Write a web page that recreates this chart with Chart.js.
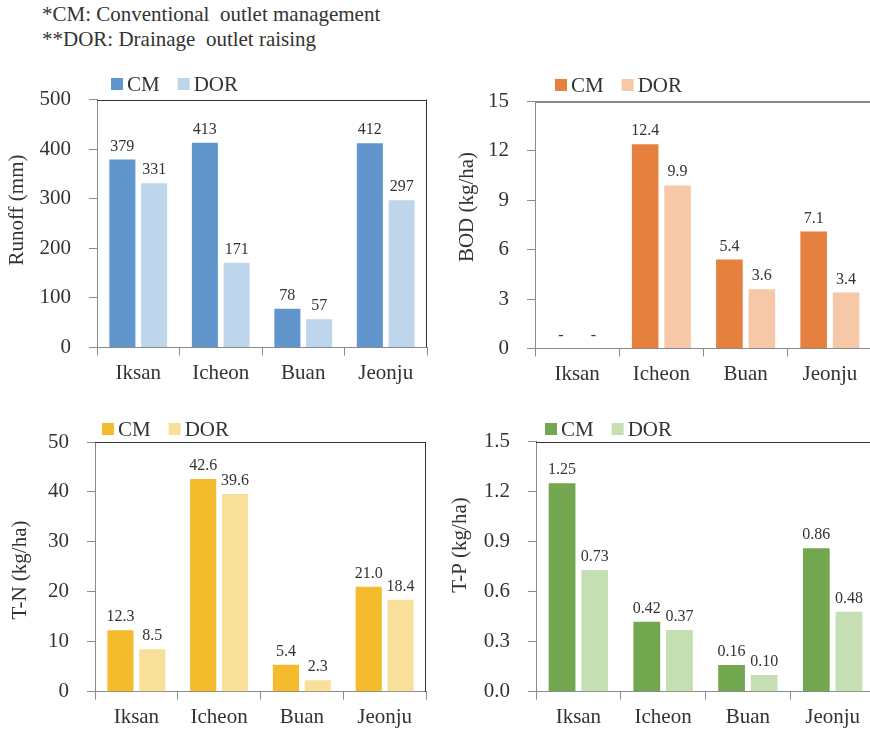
<!DOCTYPE html>
<html>
<head>
<meta charset="utf-8">
<script src="https://cdn.jsdelivr.net/npm/chart.js@4/dist/chart.umd.min.js"></script>
<style>
  html, body { margin: 0; padding: 0; background: #fff; width: 870px; height: 732px; overflow: hidden; position: relative; }
  .note { position: absolute; left: 42px; top: 2px; font-family: 'Liberation Serif'; font-size: 21px; line-height: 25px; color: #333; white-space: pre; }
  canvas { position: absolute; }
</style>
</head>
<body>
<div class="note">*CM: Conventional  outlet management
**DOR: Drainage  outlet raising</div>
<canvas id="runoff" width="440" height="350" style="left:0;top:60px"></canvas>
<canvas id="bod" width="440" height="350" style="left:440px;top:60px"></canvas>
<canvas id="tn" width="440" height="332" style="left:0;top:400px"></canvas>
<canvas id="tp" width="440" height="332" style="left:440px;top:400px"></canvas>
<script>
// Sites and measured loads (CM = conventional outlet, DOR = drainage outlet raising)
const sites = ['Iksan', 'Icheon', 'Buan', 'Jeonju'];
const seriesNames = ['CM', 'DOR'];

const runoffCM  = [379, 413, 78, 412];
const runoffDOR = [331, 171, 57, 297];
const bodCM     = [null, 12.4, 5.4, 7.1];   // no BOD data for Iksan
const bodDOR    = [null, 9.9, 3.6, 3.4];
const tnCM      = [12.3, 42.6, 5.4, 21.0];
const tnDOR     = [8.5, 39.6, 2.3, 18.4];
const tpCM      = [1.25, 0.42, 0.16, 0.86];
const tpDOR     = [0.73, 0.37, 0.10, 0.48];

const runoffTicks = [0, 100, 200, 300, 400, 500];
const bodTicks    = [0, 3, 6, 9, 12, 15];
const tnTicks     = [0, 10, 20, 30, 40, 50];
const tpTicks     = [0, 0.3, 0.6, 0.9, 1.2, 1.5];

const SERIF = "'Liberation Serif'";
const TEXT = '#333333';
const AXIS = '#8a8a8a';

Chart.defaults.font.family = SERIF;
Chart.defaults.color = TEXT;

// Frame, value labels, legend and rotated axis title
const panelDecor = {
  id: 'panelDecor',
  afterDatasetsDraw(chart, args, o) {
    const { ctx, chartArea: a } = chart;
    const y = chart.scales.y;
    ctx.save();
    // top and right frame of the plot area
    ctx.strokeStyle = o.frameColor;
    ctx.lineWidth = o.frameWidth;
    const t = Math.round(a.top) + (o.frameWidth % 2 ? 0.5 : 0);
    const r = Math.round(a.right) - 0.5;
    ctx.beginPath();
    ctx.moveTo(a.left, t); ctx.lineTo(a.right, t);
    ctx.moveTo(r, a.top); ctx.lineTo(r, a.bottom);
    ctx.stroke();

    // values above bars
    ctx.font = '16px ' + SERIF;
    ctx.fillStyle = TEXT;
    ctx.textAlign = 'center';
    ctx.textBaseline = 'alphabetic';
    chart.data.datasets.forEach((ds, di) => {
      chart.getDatasetMeta(di).data.forEach((bar, i) => {
        const v = ds.data[i];
        const top = v == null ? y.getPixelForValue(0) : bar.y;
        const txt = v == null ? '-' : v.toFixed(o.digits);
        ctx.fillText(txt, bar.x, top - 9);
      });
    });

    // legend
    ctx.font = '21px ' + SERIF;
    ctx.textAlign = 'left';
    let lx = a.left + o.legendX;
    const ly = a.top + o.legendY;
    chart.data.datasets.forEach(ds => {
      ctx.fillStyle = ds.backgroundColor;
      ctx.fillRect(lx, ly, 12, 12);
      ctx.fillStyle = TEXT;
      ctx.fillText(ds.label, lx + 16, ly + 13);
      lx += 16 + ctx.measureText(ds.label).width + 18;
    });

    // y-axis title
    ctx.translate(o.titleX, o.titleY);
    ctx.rotate(-Math.PI / 2);
    ctx.textAlign = 'center';
    ctx.textBaseline = 'middle';
    ctx.fillText(o.title, 0, 0);
    ctx.restore();
  }
};

function panel(id, p) {
  return new Chart(document.getElementById(id), {
    type: 'bar',
    data: {
      labels: sites,
      datasets: [
        { label: seriesNames[0], data: p.cm,  backgroundColor: p.colors[0] },
        { label: seriesNames[1], data: p.dor, backgroundColor: p.colors[1] }
      ]
    },
    options: {
      responsive: false,
      animation: false,
      devicePixelRatio: 1,
      categoryPercentage: 0.77,
      barPercentage: 0.82,
      layout: { padding: { left: 0, right: p.padRight, top: p.padTop, bottom: 0 } },
      plugins: {
        legend: { display: false },
        tooltip: { enabled: false },
        panelDecor: {
          frameColor: p.frameColor, frameWidth: p.frameWidth, digits: p.digits,
          legendX: p.legendX, legendY: p.legendY,
          title: p.title, titleX: p.titleX, titleY: p.titleY
        }
      },
      scales: {
        x: {
          offset: true,
          grid: { offset: true, drawOnChartArea: false, tickLength: 8, color: AXIS },
          border: { color: AXIS },
          ticks: { font: { family: SERIF, size: 21 }, color: TEXT, padding: 5, maxRotation: 0 },
          afterFit: s => { s.height = p.xHeight; }
        },
        y: {
          min: p.ticks[0],
          max: p.ticks[p.ticks.length - 1],
          afterBuildTicks: s => { s.ticks = p.ticks.map(v => ({ value: v })); },
          grid: { drawOnChartArea: false, tickLength: 8, color: AXIS },
          border: { color: AXIS },
          ticks: { font: { family: SERIF, size: 21 }, color: TEXT, padding: 18,
                   callback: v => Number(v).toFixed(p.tickDigits) },
          afterFit: s => { s.width = p.yWidth; }
        }
      }
    },
    plugins: [panelDecor]
  });
}

panel('runoff', {
  cm: runoffCM, dor: runoffDOR, ticks: runoffTicks, tickDigits: 0, digits: 0,
  colors: ['#6096cc', '#bdd6ec'], title: 'Runoff (mm)',
  yWidth: 97, padRight: 13, padTop: 39.5, xHeight: 62.5,
  legendX: 14, legendY: -21.5, titleX: 17.5, titleY: 150,
  frameColor: '#333333', frameWidth: 1
});

panel('bod', {
  cm: bodCM, dor: bodDOR, ticks: bodTicks, tickDigits: 0, digits: 1,
  colors: ['#e5803f', '#f6c8a8'], title: 'BOD (kg/ha)',
  yWidth: 95, padRight: 8, padTop: 41.5, xHeight: 61.5,
  legendX: 20, legendY: -22.5, titleX: 27.5, titleY: 147,
  frameColor: '#8a8a8a', frameWidth: 2
});

panel('tn', {
  cm: tnCM, dor: tnDOR, ticks: tnTicks, tickDigits: 0, digits: 1,
  colors: ['#f4bb2c', '#f8e09a'], title: 'T-N (kg/ha)',
  yWidth: 95, padRight: 14, padTop: 42, xHeight: 40.3,
  legendX: 7, legendY: -19, titleX: 20, titleY: 170,
  frameColor: '#333333', frameWidth: 1
});

panel('tp', {
  cm: tpCM, dor: tpDOR, ticks: tpTicks, tickDigits: 1, digits: 2,
  colors: ['#73a74f', '#c5dfb3'], title: 'T-P (kg/ha)',
  yWidth: 96, padRight: 5, padTop: 41.7, xHeight: 40.3,
  legendX: 9, legendY: -18.7, titleX: 20, titleY: 145,
  frameColor: '#333333', frameWidth: 1
});
</script>
</body>
</html>
